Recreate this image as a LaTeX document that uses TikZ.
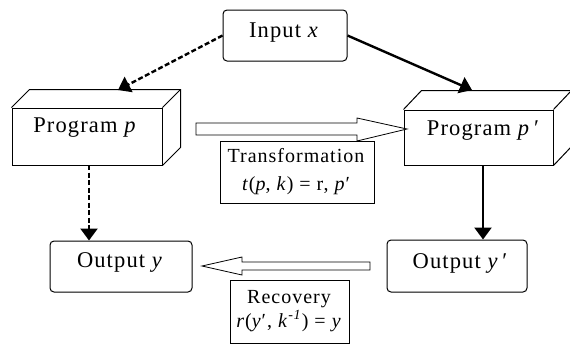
\documentclass[tikz,border=0pt]{standalone}
\usepackage{fontspec}
\setmainfont{Liberation Serif}[LetterSpace=5]
\usetikzlibrary{arrows.meta,calc}
\tikzset{
  rbox/.style={draw, line width=1pt, rounded corners=4pt, fill=white, inner sep=0pt},
  front/.style={draw, line width=1pt, fill=white, inner sep=0pt},
  face/.style={draw, line width=1pt},
  txt/.style={font=\fontsize{22.5}{25}\selectfont, inner sep=0pt, anchor=base},
  stxt/.style={font=\fontsize{20}{22}\selectfont, inner sep=0pt, anchor=base},
  plain/.style={draw, line width=1pt, fill=white, inner sep=0pt},
  conn/.style={line width=2.4pt, -{Triangle[length=12pt,width=17pt]}},
  dconn/.style={conn, dash pattern=on 5pt off 2.5pt},
  hollow/.style={draw, line width=0.8pt, fill=white},
}
\begin{document}
\begin{tikzpicture}[x=1pt,y=-1pt]
\useasboundingbox (0,0) rectangle (570,346);
% Input
\node[rbox, minimum width=124, minimum height=51] (in) at (285,35.5) {};
\node[txt] (intx) at (284,37) {Input \textit{x}};
% Program p
\node[front, minimum width=150, minimum height=57] (pp) at (87,136.5) {};
\draw[face] (pp.north west) -- ++(18,-18) -| ($(pp.south east)+(18,-18)$) -- (pp.south east);
\draw[face] (pp.north east) -- ++(18,-18);
\node[txt] (pptx) at (85,132) {Program \textit{p}};
% Program p'
\node[front, minimum width=149, minimum height=55] (pq) at (478.5,137.5) {};
\draw[face] (pq.north west) -- ++(18,-19) -| ($(pq.south east)+(18,-19)$) -- (pq.south east);
\draw[face] (pq.north east) -- ++(18,-19);
\node[txt] (pqtx) at (483,135) {Program \textit{p}\,′};
% Outputs
\node[rbox, minimum width=142, minimum height=51] (oy) at (121,266.5) {};
\node[txt] (oytx) at (120,267) {Output \textit{y}};
\node[rbox, minimum width=140, minimum height=52] (oq) at (457,266) {};
\node[txt] (oqtx) at (460,268) {Output \textit{y}\,′};
% connectors
\coordinate (pptop) at (118,90);
\coordinate (pqtop) at (472,90);
\draw[dconn] (in.west) -- (pptop);
\draw[conn] (in.east) -- (pqtop);
\coordinate (ppb) at (89,165);
\coordinate (pqb) at (483,165);
\draw[dconn] (ppb) -- (ppb |- oy.north);
\draw[conn] (pqb) -- (pqb |- oq.north);
% transformation hollow arrow
\draw[hollow] (196,123) -- (357,123) -- (357,118) -- (407,129) -- (357,141) -- (357,135) -- (196,135) -- cycle;
\node[plain, minimum width=154, minimum height=62] (tr) at (297,172) {};
\node[stxt] (tr1) at (296,162) {Transformation};
\node[stxt] (tr2) at (296,190) {\textit{t}(\textit{p}, \textit{k}) = r, \textit{p}′};
% recovery hollow arrow
\draw[hollow] (370,262) -- (242,262) -- (242,257) -- (202,266) -- (242,275) -- (242,270) -- (370,270) -- cycle;
\node[plain, minimum width=119, minimum height=63] (rc) at (289.5,311.5) {};
\node[stxt] (rc1) at (289,303) {Recovery};
\node[stxt] (rc2) at (289,327) {\textit{r}(\textit{y}′, \textit{k}\textsuperscript{\textit{-1}}) = \textit{y}};
\end{tikzpicture}
\end{document}
